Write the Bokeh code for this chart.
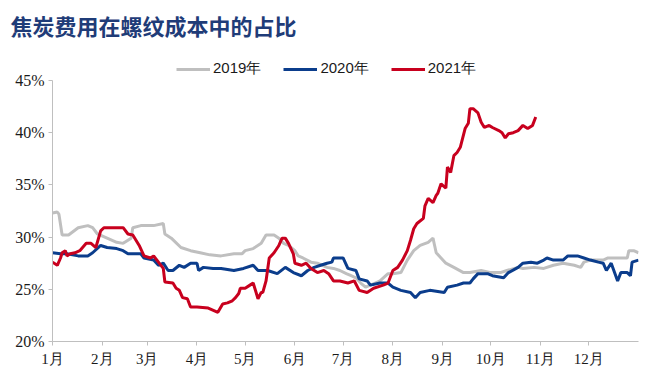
from bokeh.plotting import figure
from bokeh.models import (FixedTicker, Legend, LegendItem, Range1d)
from bokeh.embed import file_html
from bokeh.resources import INLINE

# ---- data (x = day of year, y = percent) ----
days_2019 = [0, 3, 4, 6, 10, 16, 22, 25, 28, 34, 40, 44, 49, 50, 55, 63, 69, 70, 74, 80,
             86, 92, 98, 105, 113, 118, 120, 125, 130, 133, 138, 141, 144, 147, 151, 153,
             156, 161, 165, 171, 175, 179, 183, 186, 189, 192, 195, 198, 201, 204, 209,
             212, 217, 221, 225, 229, 234, 237, 238, 239, 242, 245, 250, 256, 260, 267,
             273, 279, 283, 290, 293, 300, 306, 312, 318, 325, 329, 331, 335, 343, 346,
             350, 354, 358, 359, 362, 365]
vals_2019 = [32.3, 32.4, 32.2, 30.2, 30.2, 30.9, 31.1, 30.9, 30.3, 29.9, 29.5, 29.4, 29.9,
             30.9, 31.1, 31.1, 31.3, 30.3, 29.9, 29.0, 28.7, 28.5, 28.3, 28.2, 28.4, 28.4,
             28.7, 28.9, 29.4, 30.2, 30.2, 29.9, 29.4, 29.2, 28.7, 28.2, 28.0, 27.6, 27.5,
             27.1, 27.0, 26.8, 26.5, 26.3, 26.1, 25.6, 25.2, 25.4, 25.6, 25.8, 26.5, 26.5,
             26.6, 27.8, 28.7, 29.2, 29.5, 29.9, 29.2, 28.5, 28.0, 27.5, 27.1, 26.6, 26.6,
             26.8, 26.6, 26.6, 26.8, 27.1, 27.0, 27.1, 27.0, 27.3, 27.5, 27.3, 27.1, 27.6,
             27.8, 27.8, 28.0, 28.0, 28.0, 28.0, 28.7, 28.7, 28.5]

days_2020 = [0, 5, 9, 16, 22, 25, 30, 34, 40, 44, 47, 50, 55, 57, 63, 66, 69, 72, 75, 79,
             82, 86, 90, 91, 94, 100, 105, 113, 119, 125, 128, 134, 140, 145, 150, 155,
             159, 163, 167, 171, 174, 175, 181, 184, 189, 191, 196, 198, 204, 209, 212,
             217, 223, 226, 229, 235, 244, 246, 252, 256, 260, 262, 265, 271, 274, 281,
             284, 290, 293, 298, 302, 306, 308, 312, 318, 321, 327, 331, 335, 340, 343,
             345, 348, 352, 354, 358, 360, 361, 365]
vals_2020 = [28.5, 28.4, 28.4, 28.2, 28.2, 28.5, 29.2, 29.0, 28.9, 28.7, 28.4, 28.4, 28.4,
             28.0, 27.8, 27.3, 27.5, 26.8, 26.8, 27.3, 27.1, 27.5, 27.5, 26.8, 27.1, 27.0,
             27.0, 26.8, 27.0, 27.3, 26.8, 26.8, 26.5, 27.1, 26.6, 26.3, 26.8, 27.1, 27.3,
             27.5, 27.6, 28.0, 28.0, 27.0, 26.8, 26.0, 25.8, 25.4, 25.6, 25.6, 25.2, 24.9,
             24.7, 24.2, 24.7, 24.9, 24.7, 25.2, 25.4, 25.6, 25.6, 26.0, 26.5, 26.5, 26.3,
             26.1, 26.6, 27.1, 27.5, 27.6, 27.5, 27.8, 28.0, 27.8, 27.8, 28.2, 28.2, 28.0,
             27.8, 27.6, 27.5, 26.8, 27.5, 25.8, 26.6, 26.6, 26.3, 27.6, 27.8]

days_2021 = [0, 3, 5, 6, 8, 9, 11, 14, 17, 21, 24, 27, 30, 32, 38, 44, 47, 50, 54, 57, 61,
             63, 66, 69, 70, 75, 77, 79, 81, 84, 86, 90, 97, 103, 106, 109, 112, 114, 116,
             117, 120, 123, 125, 128, 130, 131, 133, 135, 138, 141, 143, 145, 147, 150,
             151, 155, 158, 161, 165, 169, 172, 175, 179, 184, 188, 191, 196, 200, 206,
             209, 212, 215, 218, 221, 223, 225, 227, 231, 232, 234, 237, 239, 240, 242,
             245, 246, 248, 250, 252, 254, 257, 259, 260, 262, 265, 267, 269, 272, 274,
             278, 280, 282, 284, 287, 290, 293, 296, 299, 301]
vals_2021 = [27.6, 27.3, 28.0, 28.5, 28.7, 28.2, 28.4, 28.5, 28.7, 29.4, 29.4, 29.0, 30.6,
             30.9, 30.9, 30.9, 30.3, 30.2, 29.2, 28.2, 28.0, 28.2, 27.6, 27.0, 25.7, 25.6,
             25.1, 24.9, 24.2, 24.1, 23.3, 23.3, 23.2, 22.8, 23.6, 23.7, 23.9, 24.2, 24.6,
             25.1, 25.1, 25.4, 25.6, 24.1, 24.7, 24.7, 25.8, 28.0, 28.5, 29.2, 29.9, 29.9,
             29.4, 28.4, 27.5, 27.3, 27.5, 27.0, 26.6, 26.8, 26.5, 25.8, 25.8, 25.6, 25.8,
             24.9, 24.7, 25.1, 25.4, 25.6, 26.8, 27.1, 27.8, 28.7, 29.7, 30.8, 31.3, 31.8,
             33.0, 33.7, 33.3, 34.0, 34.2, 35.1, 34.7, 36.7, 36.2, 37.8, 38.1, 38.6, 40.4,
             40.9, 42.3, 42.3, 41.9, 41.0, 40.5, 40.7, 40.5, 40.2, 40.0, 39.5, 39.9, 40.0,
             40.2, 40.7, 40.4, 40.7, 41.5]

month_starts = [0, 31, 59, 90, 120, 151, 181, 212, 243, 273, 304, 334]
month_labels = ["1月", "2月", "3月", "4月", "5月", "6月", "7月", "8月", "9月", "10月", "11月", "12月"]
y_ticks = [20, 25, 30, 35, 40, 45]
y_labels = ["20%", "25%", "30%", "35%", "40%", "45%"]
series_names = ["2019年", "2020年", "2021年"]
title_text = "焦炭费用在螺纹成本中的占比"

GRAY = "#BFBFBF"
BLUE = "#0B3D8C"
RED = "#C8001E"

# frame spans canvas y 50..341; the top 30 px (above 45%) hold the legend
PX_PER_UNIT = 261 / 25.0
y_top = y_ticks[-1] + 30 / PX_PER_UNIT

p = figure(width=650, height=377, output_backend="svg", toolbar_location=None,
           x_range=Range1d(0, 365), y_range=Range1d(y_ticks[0], y_top),
           min_border_left=52, min_border_right=12, min_border_top=50, min_border_bottom=36)
p.outline_line_color = None
p.xgrid.grid_line_color = None
p.ygrid.grid_line_color = None
p.background_fill_color = "white"
p.border_fill_color = "white"

r19 = p.line(days_2019, vals_2019, line_color=GRAY, line_width=3)
r20 = p.line(days_2020, vals_2020, line_color=BLUE, line_width=3)
r21 = p.line(days_2021, vals_2021, line_color=RED, line_width=3)

# axes
for ax in (p.xaxis[0], p.yaxis[0]):
    ax.axis_line_color = GRAY
    ax.axis_line_width = 1
    ax.major_tick_line_color = GRAY
    ax.major_tick_in = 0
    ax.major_tick_out = 4
    ax.minor_tick_line_color = None
    ax.major_label_text_font = "Liberation Serif"
    ax.major_label_text_color = "#1a1a1a"

p.xaxis.ticker = FixedTicker(ticks=month_starts)
p.xaxis.major_label_overrides = {m: l for m, l in zip(month_starts, month_labels)}
p.xaxis.major_label_text_font_size = "15px"
p.xaxis.major_label_standoff = 5

p.yaxis.ticker = FixedTicker(ticks=y_ticks)
p.yaxis.bounds = (y_ticks[0], y_ticks[-1])
p.yaxis.major_label_overrides = {t: l for t, l in zip(y_ticks, y_labels)}
p.yaxis.major_label_text_font_size = "16px"
p.yaxis.major_label_standoff = 4

# title
p.title.text = title_text
p.title.text_font = "Noto Sans CJK SC"
p.title.text_font_style = "bold"
p.title.text_font_size = "22px"
p.title.text_color = "#1F3C78"
p.title.align = "left"
p.title.vertical_align = "top"
p.title.offset = -42
p.title.standoff = 16

# legend (inside the frame, above the 45% line)
legend = Legend(items=[LegendItem(label=series_names[0], renderers=[r19]),
                       LegendItem(label=series_names[1], renderers=[r20]),
                       LegendItem(label=series_names[2], renderers=[r21])],
                orientation="horizontal", location=(124, 263),
                padding=0, margin=0, spacing=22, label_standoff=3,
                glyph_width=34, glyph_height=18, label_height=18,
                label_text_font="Liberation Sans", label_text_font_size="15px",
                label_text_color="#1a1a1a",
                border_line_color=None, background_fill_alpha=0)
p.add_layout(legend, "center")

open("out.html", "w").write(file_html(p, INLINE))
